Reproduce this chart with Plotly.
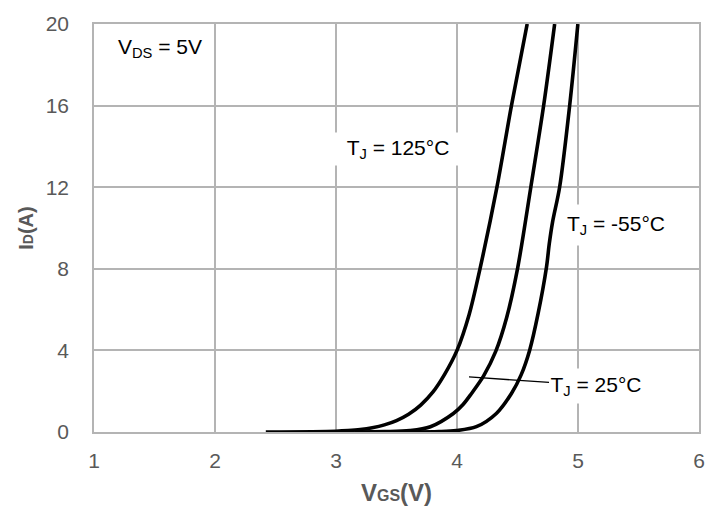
import plotly.graph_objects as go

# ---- data ----
vgs_125 = [2.42, 3.00, 3.10, 3.20, 3.30, 3.40, 3.50, 3.60, 3.70, 3.80, 3.90, 4.00, 4.10, 4.19, 4.33, 4.45, 4.58]
id_125 = [0.0, 0.04, 0.07, 0.12, 0.21, 0.35, 0.56, 0.87, 1.32, 1.95, 2.85, 4.00, 5.75, 8.00, 12.0, 16.0, 20.0]

vgs_25 = [3.15, 3.40, 3.61, 3.78, 3.97, 4.05, 4.12, 4.22, 4.32, 4.41, 4.50, 4.61, 4.716, 4.807]
id_25 = [0.0, 0.02, 0.07, 0.26, 0.91, 1.35, 1.89, 2.75, 3.95, 5.60, 8.00, 12.0, 16.0, 20.0]

vgs_m55 = [3.62, 3.85, 3.995, 4.16, 4.325, 4.45, 4.53, 4.60, 4.67, 4.74, 4.762, 4.79, 4.848, 4.931, 4.999]
id_m55 = [0.0, 0.02, 0.07, 0.26, 0.91, 1.89, 2.80, 4.00, 5.80, 8.10, 9.20, 10.3, 12.0, 16.0, 20.0]

x_ticks = [1, 2, 3, 4, 5, 6]
y_ticks = [0, 4, 8, 12, 16, 20]

FONT = "Liberation Sans, Arial, sans-serif"
GRID = "#b4b4b4"
TXT = "#595959"

fig = go.Figure()
for xs, ys, name in [(vgs_125, id_125, "TJ = 125°C"),
                     (vgs_25, id_25, "TJ = 25°C"),
                     (vgs_m55, id_m55, "TJ = -55°C")]:
    fig.add_trace(go.Scatter(x=xs, y=ys, mode="lines", name=name,
                             line=dict(color="black", width=3.6, shape="spline", smoothing=0.9),
                             showlegend=False, hoverinfo="skip"))

ann_font = dict(family=FONT, size=21, color="black")
fig.add_annotation(x=1.182, y=18.8, xref="x", yref="y", xanchor="left", yanchor="middle",
                   text="V<sub>DS</sub> = 5V", showarrow=False, font=ann_font)
fig.add_annotation(x=3.516, y=13.85, xref="x", yref="y", xanchor="center", yanchor="middle",
                   text="T<sub>J</sub> = 125°C", showarrow=False, font=ann_font,
                   bgcolor="white", width=130, height=32, borderpad=0)
fig.add_annotation(x=5.31, y=10.15, xref="x", yref="y", xanchor="center", yanchor="middle",
                   text="T<sub>J</sub> = -55°C", showarrow=False, font=ann_font,
                   bgcolor="white", width=104, height=40, borderpad=0)
fig.add_annotation(x=4.099, y=2.70, ax=5.145, ay=2.27, xref="x", yref="y", axref="x", ayref="y",
                   text="T<sub>J</sub> = 25°C", showarrow=True, arrowhead=0, arrowwidth=1.3,
                   arrowcolor="black", font=ann_font, bgcolor="white", width=92, height=34,
                   borderpad=0, standoff=0, startstandoff=0)

fig.update_layout(
    width=720, height=517,
    margin=dict(l=94, r=21, t=22, b=85),
    paper_bgcolor="white", plot_bgcolor="white",
    font=dict(family=FONT, color=TXT),
)
fig.update_xaxes(range=[1, 6], tickvals=x_ticks, ticktext=[str(v) for v in x_ticks],
                 showgrid=True, gridcolor=GRID, gridwidth=1.5,
                 showline=True, linecolor=GRID, linewidth=1.5, mirror=True,
                 zeroline=False, ticks="outside", ticklen=9, tickcolor="rgba(0,0,0,0)",
                 tickfont=dict(family=FONT, size=21, color=TXT),
                 title=dict(text="<b>V<span style='font-size:16px'>GS</span>(V)</b>",
                            font=dict(family=FONT, size=24, color=TXT), standoff=13))
fig.update_yaxes(range=[0, 20], tickvals=y_ticks, ticktext=[str(v) for v in y_ticks],
                 showgrid=True, gridcolor=GRID, gridwidth=1.5,
                 showline=True, linecolor=GRID, linewidth=1.5, mirror=True,
                 zeroline=False, ticks="outside", ticklen=19, tickcolor="rgba(0,0,0,0)",
                 tickfont=dict(family=FONT, size=21, color=TXT),
                 title=dict(text="<b>I<span style='font-size:14px'>D</span>(A)</b>",
                            font=dict(family=FONT, size=20, color=TXT), standoff=7))

fig.write_html("out.html")
